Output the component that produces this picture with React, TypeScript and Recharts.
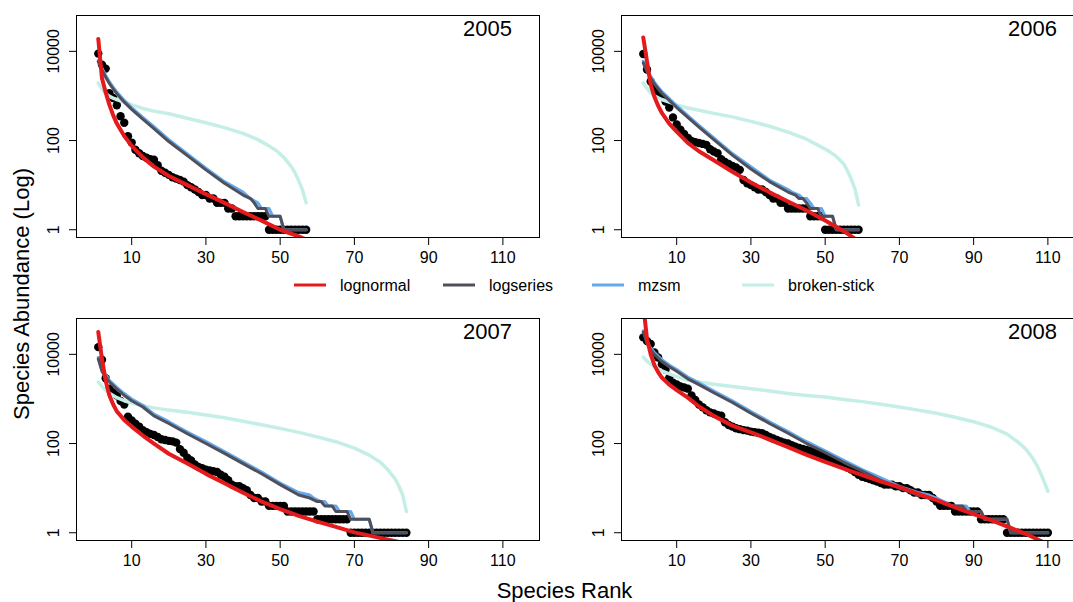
import React from 'react';
import { ComposedChart, Line, XAxis, YAxis } from 'recharts';

const FONT = '"Liberation Sans", Arial, Helvetica, sans-serif';

// ---------- axes ----------
const xTicks = [10, 30, 50, 70, 90, 110];
const yTicks = [1, 100, 10000];
const X_DOMAIN: [number, number] = [-5.0, 120.0];
const Y_DOMAIN: [number, number] = [0.653, 65300];

const years = ['2005', '2006', '2007', '2008'];
const seriesNames = ['lognormal', 'logseries', 'mzsm', 'broken-stick'];
const seriesColors = ['#E41A1C', '#50505C', '#64A9EC', '#C5EEE7'];
const seriesWidths = [4, 3, 3, 3.5];

// ---------- observed abundances (rank 1..N) ----------
const obs2005 = [8900, 5000, 4100, 1150, 900, 620, 350, 250, 125, 90, 62, 52, 45, 41, 38, 37, 28, 21, 19, 17, 15, 14, 13, 12, 10, 9, 8, 7, 6, 6, 5, 5, 4, 4, 4, 3, 3, 2, 2, 2, 2, 2, 2, 2, 2, 2, 1, 1, 1, 1, 1, 1, 1, 1, 1, 1, 1];
const obs2006 = [8700, 3900, 2100, 1500, 1200, 1000, 750, 550, 330, 230, 175, 140, 115, 98, 92, 88, 84, 80, 64, 57, 52, 38, 33, 30, 27, 25, 22, 13, 11, 10, 9, 8, 8, 7, 6, 5, 5, 4, 4, 3, 3, 3, 3, 3, 3, 2, 2, 2, 2, 1, 1, 1, 1, 1, 1, 1, 1, 1, 1];
const obs2007 = [14500, 7600, 2900, 1700, 1400, 1200, 900, 750, 400, 330, 280, 240, 200, 180, 165, 155, 140, 125, 120, 115, 112, 105, 75, 62, 48, 42, 34, 30, 28, 26, 25, 24, 23, 20, 18, 15, 12, 11, 11, 10, 9, 7, 6, 6, 5, 5, 4, 4, 4, 4, 4, 3, 3, 3, 3, 3, 3, 3, 3, 2, 2, 2, 2, 2, 2, 2, 2, 2, 1, 1, 1, 1, 1, 1, 1, 1, 1, 1, 1, 1, 1, 1, 1, 1];
const obs2008 = [24000, 20000, 17000, 11000, 8500, 6000, 4500, 3000, 2300, 2100, 1900, 1800, 1700, 1200, 950, 750, 650, 560, 500, 470, 440, 420, 300, 260, 240, 220, 210, 200, 195, 185, 180, 175, 170, 155, 140, 130, 120, 112, 105, 100, 92, 85, 80, 76, 72, 68, 65, 60, 55, 48, 45, 42, 40, 36, 33, 29, 26, 23, 20, 18, 17, 16, 15, 14, 13, 12, 12, 12, 11, 11, 10, 10, 9, 8, 8, 7, 7, 7, 6, 5, 4, 4, 4, 4, 3, 3, 3, 3, 3, 3, 3, 2, 2, 2, 2, 2, 2, 2, 1, 1, 1, 1, 1, 1, 1, 1, 1, 1, 1, 1];

// ---------- fitted models: 2005 ----------
const lnRank2005 = [1, 2, 3, 4, 5, 6, 8, 10, 13, 16, 20, 25, 30, 35, 40, 45, 50, 55, 57];
const lnVal2005 = [19000, 2500, 1200, 630, 372, 240, 126, 76, 42, 26, 16, 10, 6.3, 4.0, 2.5, 1.6, 1.0, 0.71, 0.6];
const lsRank2005 = [1, 2, 3, 4, 5, 6, 8, 10, 13, 16, 20, 25, 30, 35, 40, 42, 43, 44, 46, 47, 50, 51, 57];
const lsVal2005 = [5900, 3800, 2630, 1900, 1450, 1120, 725, 500, 302, 186, 95, 46, 22, 11, 6, 5, 4, 3, 3, 2, 2, 1, 1];
const mzRank2005 = [1, 2, 3, 4, 5, 6, 8, 10, 13, 16, 20, 25, 30, 35, 40, 42, 44, 45, 47, 48, 50, 51, 57];
const mzVal2005 = [6300, 4170, 2880, 2090, 1580, 1230, 794, 550, 331, 204, 105, 50, 24, 12, 7, 5, 4, 3, 3, 2, 2, 1, 1];
const bsRank2005 = [1, 2, 3, 4, 5, 6, 8, 10, 13, 16, 20, 25, 30, 35, 40, 44, 47, 49, 51, 53, 54, 55, 56, 57];
const bsVal2005 = [1950, 1410, 1150, 977, 891, 832, 724, 631, 525, 457, 398, 316, 251, 195, 145, 105, 76, 59, 42, 26, 19, 12.6, 7.9, 4.0];

// ---------- fitted models: 2006 ----------
const lnRank2006 = [1, 2, 3, 4, 5, 6, 8, 10, 13, 16, 20, 25, 30, 35, 40, 45, 50, 55, 58];
const lnVal2006 = [20400, 6000, 1780, 955, 603, 417, 240, 158, 89, 57.5, 36.3, 20, 11.5, 6.9, 4.3, 2.7, 1.62, 0.93, 0.63];
const lsRank2006 = [1, 2, 3, 4, 5, 6, 8, 10, 13, 16, 20, 25, 30, 35, 40, 42, 43, 44, 45, 46, 48, 49, 52, 53, 59];
const lsVal2006 = [5500, 3550, 2510, 1860, 1450, 1150, 794, 550, 331, 200, 105, 47, 23, 12, 7, 6, 5, 5, 4, 3, 3, 2, 2, 1, 1];
const mzRank2006 = [1, 2, 3, 4, 5, 6, 8, 10, 13, 16, 20, 25, 30, 35, 40, 41, 43, 44, 45, 46, 47, 49, 50, 52, 53, 59];
const mzVal2006 = [6000, 3900, 2750, 2040, 1580, 1260, 871, 603, 363, 219, 115, 51, 26, 13, 8, 7, 6, 5, 5, 4, 3, 3, 2, 2, 1, 1];
const bsRank2006 = [1, 2, 3, 4, 5, 6, 8, 10, 13, 16, 20, 25, 30, 35, 40, 45, 48, 51, 53, 55, 56, 57, 58, 59];
const bsVal2006 = [1950, 1480, 1175, 1000, 912, 832, 724, 631, 537, 479, 407, 339, 269, 209, 155, 107, 79, 58, 44, 30, 21, 14, 8.3, 3.6];

// ---------- fitted models: 2007 ----------
const lnRank2007 = [1, 2, 3, 4, 5, 6, 8, 10, 13, 16, 20, 25, 30, 35, 40, 45, 50, 55, 60, 65, 70, 75, 82];
const lnVal2007 = [31600, 7900, 2510, 1200, 759, 525, 339, 240, 151, 100, 59, 35.5, 20.9, 12.9, 7.9, 5.0, 3.4, 2.4, 1.78, 1.35, 1.02, 0.83, 0.62];
const lsRank2007 = [1, 2, 3, 4, 5, 6, 8, 10, 13, 16, 20, 25, 30, 35, 40, 45, 50, 55, 58, 60, 61, 62, 64, 65, 68, 69, 74, 75, 84];
const lsVal2007 = [7900, 4170, 3160, 2400, 2000, 1660, 1200, 912, 661, 417, 282, 166, 100, 60, 35.5, 21, 12, 7, 6, 5, 5, 4, 4, 3, 3, 2, 2, 1, 1];
const mzRank2007 = [1, 2, 3, 4, 5, 6, 8, 10, 13, 16, 20, 25, 30, 35, 40, 45, 50, 55, 58, 59, 61, 62, 63, 65, 66, 69, 70, 74, 75, 84];
const mzVal2007 = [8500, 4570, 3470, 2630, 2190, 1820, 1320, 1000, 724, 457, 309, 182, 110, 66, 39, 23, 13, 8, 7, 6, 5, 5, 4, 4, 3, 3, 2, 2, 1, 1];
const bsRank2007 = [1, 2, 3, 4, 5, 6, 8, 10, 13, 16, 20, 25, 30, 35, 40, 45, 50, 55, 60, 65, 70, 74, 77, 79, 81, 82, 83, 84];
const bsVal2007 = [2400, 1900, 1580, 1350, 1200, 1070, 912, 813, 708, 631, 562, 501, 437, 380, 316, 263, 219, 178, 141, 110, 79, 55, 38, 26, 16, 11, 7.1, 3.0];

// ---------- fitted models: 2008 ----------
const lnRank2008 = [1, 2, 3, 4, 5, 6, 8, 10, 13, 16, 20, 25, 30, 35, 40, 45, 50, 55, 60, 65, 70, 75, 80, 85, 90, 95, 100, 105, 109];
const lnVal2008 = [126000, 22400, 10000, 5750, 3980, 3020, 2090, 1580, 1070, 676, 417, 251, 178, 123, 83, 56, 39, 27.5, 19.5, 14.1, 10.5, 7.4, 5.4, 3.7, 2.6, 1.86, 1.29, 0.87, 0.6];
const lsRank2008 = [1, 2, 3, 4, 5, 6, 8, 10, 13, 16, 20, 25, 30, 35, 40, 45, 50, 55, 60, 65, 70, 75, 78, 81, 84, 87, 88, 92, 93, 99, 100, 110];
const lsVal2008 = [31600, 17800, 12600, 10000, 8300, 6900, 5250, 4170, 2820, 2090, 1380, 832, 479, 282, 170, 100, 63, 38, 24, 15, 10, 7, 6, 5, 4, 4, 3, 3, 2, 2, 1, 1];
const mzRank2008 = [1, 2, 3, 4, 5, 6, 8, 10, 13, 16, 20, 25, 30, 35, 40, 45, 50, 55, 60, 65, 70, 75, 78, 80, 82, 84, 88, 89, 92, 93, 99, 100, 110];
const mzVal2008 = [33900, 19500, 13800, 11000, 9100, 7600, 5750, 4570, 3090, 2290, 1510, 912, 525, 309, 186, 110, 69, 42, 26, 17, 11, 8, 7, 6, 5, 4, 4, 3, 3, 2, 2, 1, 1];
const bsRank2008 = [1, 2, 3, 4, 6, 8, 10, 13, 16, 20, 25, 30, 35, 40, 45, 50, 55, 60, 65, 70, 75, 80, 85, 90, 95, 99, 102, 104, 106, 107, 108, 109, 110];
const bsVal2008 = [8700, 7080, 6030, 5250, 4270, 3630, 3160, 2630, 2400, 2140, 1910, 1700, 1510, 1320, 1200, 1100, 977, 871, 759, 661, 562, 479, 389, 309, 229, 162, 107, 76, 46, 33, 22, 14, 8.5];

// ---------- helpers ----------
type Row = { x: number; y: number };
const toRows = (ranks: number[], vals: number[]): Row[] => ranks.map((r, i) => ({ x: r, y: vals[i] }));
const obsRows = (vals: number[]): Row[] => vals.map((v, i) => ({ x: i + 1, y: v }));

// layout
const CHART_W = 540;
const CHART_H = 278;
const PLOT_L = 76;
const PLOT_T = 15;
const PLOT_W = 464;
const PLOT_H = 223;
const X_AXIS_H = CHART_H - PLOT_T - PLOT_H;

const XTick = (props: any) => {
  const { x, y, payload } = props;
  return (
    <text x={x} y={y + 10.5} textAnchor="middle" dominantBaseline="central" fontSize={16} fontFamily={FONT} fill="#000">
      {String(payload.value)}
    </text>
  );
};

const YTick = (props: any) => {
  const { x, y, payload } = props;
  return (
    <text
      x={0}
      y={0}
      transform={`translate(${x - 13.4},${y}) rotate(-90)`}
      textAnchor="middle"
      dominantBaseline="central"
      fontSize={16}
      fontFamily={FONT}
      fill="#000"
    >
      {String(payload.value)}
    </text>
  );
};

type PanelProps = {
  left: number;
  top: number;
  year: string;
  obs: number[];
  ln: Row[];
  ls: Row[];
  mz: Row[];
  bs: Row[];
};

function Panel({ left, top, year, obs, ln, ls, mz, bs }: PanelProps) {
  // draw order: broken-stick, mzsm, logseries, lognormal
  const models = [
    { rows: bs, idx: 3 },
    { rows: mz, idx: 2 },
    { rows: ls, idx: 1 },
    { rows: ln, idx: 0 },
  ];
  return (
    <div style={{ position: 'absolute', left, top, width: CHART_W, height: CHART_H }}>
      <div style={{ position: 'absolute', left: 0, top: 0 }}>
        <ComposedChart width={CHART_W} height={CHART_H} margin={{ top: PLOT_T, right: 0, bottom: 0, left: 0 }}>
          <XAxis
            type="number"
            dataKey="x"
            domain={X_DOMAIN}
            ticks={xTicks}
            allowDataOverflow
            height={X_AXIS_H}
            axisLine={false}
            stroke="#000"
            tickLine={{ stroke: '#000', strokeWidth: 1 }}
            tickSize={7}
            tick={<XTick />}
            interval={0}
          />
          <YAxis
            type="number"
            scale="log"
            domain={Y_DOMAIN}
            ticks={yTicks}
            allowDataOverflow
            width={PLOT_L}
            axisLine={false}
            stroke="#000"
            tickLine={{ stroke: '#000', strokeWidth: 1 }}
            tickSize={7}
            tick={<YTick />}
            interval={0}
          />
          <Line
            data={obsRows(obs)}
            dataKey="y"
            stroke="none"
            dot={{ r: 4.2, fill: '#000', stroke: 'none' }}
            isAnimationActive={false}
          />
        </ComposedChart>
      </div>
      <div style={{ position: 'absolute', left: 0, top: 0 }}>
        <ComposedChart width={CHART_W} height={CHART_H} margin={{ top: PLOT_T, right: 0, bottom: X_AXIS_H, left: PLOT_L }}>
          <XAxis hide type="number" dataKey="x" domain={X_DOMAIN} allowDataOverflow />
          <YAxis hide type="number" scale="log" domain={Y_DOMAIN} allowDataOverflow />
          {models.map((m) => (
            <Line
              key={seriesNames[m.idx]}
              data={m.rows}
              dataKey="y"
              type="linear"
              stroke={seriesColors[m.idx]}
              strokeWidth={seriesWidths[m.idx]}
              strokeLinecap="round"
              strokeLinejoin="round"
              dot={false}
              activeDot={false}
              isAnimationActive={false}
            />
          ))}
        </ComposedChart>
      </div>
      <svg width={CHART_W} height={CHART_H} style={{ position: 'absolute', left: 0, top: 0, overflow: 'visible' }}>
        <rect x={PLOT_L + 0.5} y={PLOT_T + 0.5} width={PLOT_W - 1} height={PLOT_H - 1} fill="none" stroke="#000" strokeWidth={1} />
        <text x={PLOT_L + 436} y={PLOT_T + 20.5} textAnchor="end" fontSize={22} fontFamily={FONT} fill="#000">
          {year}
        </text>
      </svg>
    </div>
  );
}

const legendX = [294, 443, 592, 742];

export default function App() {
  return (
    <div
      style={{
        position: 'absolute',
        left: 0,
        top: 0,
        width: 1073,
        height: 602,
        overflow: 'hidden',
        background: '#fff',
        fontFamily: FONT,
      }}
    >
      <Panel left={0} top={0} year={years[0]} obs={obs2005}
        ln={toRows(lnRank2005, lnVal2005)} ls={toRows(lsRank2005, lsVal2005)}
        mz={toRows(mzRank2005, mzVal2005)} bs={toRows(bsRank2005, bsVal2005)} />
      <Panel left={545} top={0} year={years[1]} obs={obs2006}
        ln={toRows(lnRank2006, lnVal2006)} ls={toRows(lsRank2006, lsVal2006)}
        mz={toRows(mzRank2006, mzVal2006)} bs={toRows(bsRank2006, bsVal2006)} />
      <Panel left={0} top={303} year={years[2]} obs={obs2007}
        ln={toRows(lnRank2007, lnVal2007)} ls={toRows(lsRank2007, lsVal2007)}
        mz={toRows(mzRank2007, mzVal2007)} bs={toRows(bsRank2007, bsVal2007)} />
      <Panel left={545} top={303} year={years[3]} obs={obs2008}
        ln={toRows(lnRank2008, lnVal2008)} ls={toRows(lsRank2008, lsVal2008)}
        mz={toRows(mzRank2008, mzVal2008)} bs={toRows(bsRank2008, bsVal2008)} />
      <svg width={1073} height={602} style={{ position: 'absolute', left: 0, top: 0, pointerEvents: 'none' }}>
        {seriesNames.map((name, i) => (
          <g key={name}>
            <line x1={legendX[i]} x2={legendX[i] + 32} y1={285} y2={285} stroke={seriesColors[i]} strokeWidth={3} />
            <text x={legendX[i] + 46} y={285} dominantBaseline="central" fontSize={16} fontFamily={FONT} fill="#000">
              {name}
            </text>
          </g>
        ))}
        <text x={564.5} y={598} textAnchor="middle" fontSize={22} fontFamily={FONT} fill="#000">
          Species Rank
        </text>
        <text
          x={0}
          y={0}
          transform="translate(21,294) rotate(-90)"
          textAnchor="middle"
          dominantBaseline="central"
          fontSize={22}
          fontFamily={FONT}
          fill="#000"
        >
          Species Abundance (Log)
        </text>
      </svg>
    </div>
  );
}
